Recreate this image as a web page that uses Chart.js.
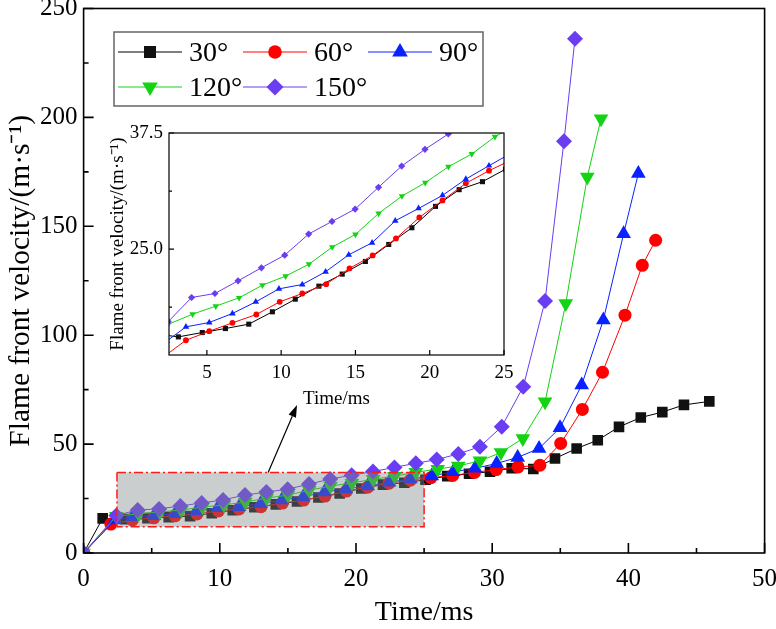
<!DOCTYPE html>
<html><head><meta charset="utf-8">
<script src="https://cdn.jsdelivr.net/npm/chart.js@4/dist/chart.umd.min.js"></script>
<style>
html,body{margin:0;padding:0;background:#fff;}
#wrap{position:relative;width:776px;height:629px;overflow:hidden;}
#main{position:absolute;left:0;top:0;}
#inset{position:absolute;left:100px;top:120px;}
</style></head>
<body><div id="wrap"><canvas id="main" width="776" height="629"></canvas><canvas id="inset" width="420" height="300"></canvas></div>
<script>
// ---- data (time in ms, flame front velocity in m/s) ----
const t30  = [0, 1.4, 3.08, 4.69, 6.25, 7.82, 9.41, 10.95, 12.54, 14.11, 15.67, 17.24, 18.8, 20.39, 21.98, 23.55, 25.1, 26.7, 28.3, 29.84, 31.43, 33.02, 34.61, 36.2, 37.75, 39.31, 40.91, 42.49, 44.08, 45.94];
const v30  = [0, 15.9, 15.55, 16.02, 16.45, 16.92, 18.25, 19.61, 21.01, 22.31, 23.67, 25.5, 27.3, 29.6, 31.4, 32.26, 33.6, 35.3, 36.4, 37.3, 38.9, 38.6, 43.4, 48.0, 51.8, 57.9, 62.2, 64.7, 68.0, 69.6];
const t60  = [0, 2.0, 3.59, 5.16, 6.72, 8.33, 9.9, 11.42, 13.03, 14.6, 16.16, 17.73, 19.3, 20.86, 22.43, 23.99, 25.5, 27.1, 28.7, 30.3, 31.9, 33.5, 35.03, 36.62, 38.1, 39.75, 41.02, 42.0];
const v60  = [0, 13.3, 15.19, 16.16, 17.06, 17.96, 19.32, 20.22, 21.23, 22.92, 24.32, 26.15, 28.41, 30.24, 32.08, 33.44, 34.6, 35.6, 37.0, 38.3, 39.5, 40.3, 50.3, 65.9, 83.0, 109.2, 132.1, 143.6];
const t90  = [0, 2.3, 3.59, 5.16, 6.72, 8.29, 9.85, 11.42, 12.99, 14.55, 16.12, 17.68, 19.25, 20.86, 22.43, 23.99, 25.56, 27.14, 28.74, 30.33, 31.87, 33.44, 34.98, 36.57, 38.16, 39.65, 40.73];
const v90  = [0, 15.1, 16.63, 17.1, 18.07, 19.32, 20.72, 21.19, 22.56, 24.39, 25.68, 28.05, 29.38, 30.78, 32.54, 33.98, 35.4, 37.3, 38.9, 41.1, 43.9, 48.0, 57.5, 77.1, 107.0, 146.6, 174.2];
const t120 = [0, 2.4, 4.04, 5.6, 7.17, 8.74, 10.3, 11.87, 13.44, 15.0, 16.56, 18.13, 19.7, 21.26, 22.83, 24.39, 26.0, 27.51, 29.1, 30.64, 32.25, 33.88, 35.4, 36.98, 37.99];
const v120 = [0, 16.9, 18.0, 18.86, 19.76, 21.12, 22.09, 23.38, 25.22, 26.58, 28.84, 30.71, 32.15, 33.87, 35.24, 37.1, 38.5, 40.0, 42.3, 46.1, 52.6, 69.4, 114.5, 172.6, 199.4];
const t150 = [0, 2.4, 3.97, 5.54, 7.1, 8.67, 10.24, 11.85, 13.42, 14.98, 16.55, 18.11, 19.68, 21.25, 22.82, 24.39, 25.93, 27.51, 29.1, 30.7, 32.28, 33.88, 35.27, 36.08];
const v150 = [0, 17.2, 19.79, 20.22, 21.59, 22.99, 24.35, 26.62, 27.98, 29.31, 31.65, 33.94, 35.74, 37.39, 39.3, 41.2, 42.9, 45.5, 48.8, 58.0, 76.3, 115.7, 189.1, 236.1];
const labels = ['30°', '60°', '90°', '120°', '150°'];

// tick values
const xMajorMain = [0, 10, 20, 30, 40, 50];
const xMinorMain = [5, 15, 25, 35, 45];
const yMajorMain = [0, 50, 100, 150, 200, 250];
const yMinorMain = [25, 75, 125, 175, 225];
const xMajorInset = [5, 10, 15, 20, 25];
const yMajorInset = [25.0, 37.5];
const yMinorInset = [18.75, 31.25];
const zoomBox = [2.45, 25, 12, 37];        // x0, x1, y0, y1 of the shaded region
const arrowPts = [13.55, 37, 15.67, 67.9]; // from (x,y) to (x,y)

// ---- styles ----
const FONT = "'Liberation Serif','Times New Roman',serif";
const styles = [
  {color:'#000000', fill:'#111111', shape:'rect',     rot:0,   r:7.5, ri:3.6, rl:8.5},
  {color:'#ff0000', fill:'#ff0000', shape:'circle',   rot:0,   r:6.5, ri:2.9, rl:6.8},
  {color:'#0a22ff', fill:'#0a22ff', shape:'triangle', rot:0,   r:8.5, ri:3.8, rl:9},
  {color:'#14d214', fill:'#14d214', shape:'triangle', rot:180, r:8.5, ri:3.8, rl:9},
  {color:'#6a3cf2', fill:'#6a3cf2', shape:'rectRot',  rot:0,   r:8,   ri:3.6, rl:8.5}
];
const seriesT = [t30, t60, t90, t120, t150];
const seriesV = [v30, v60, v90, v120, v150];

function pts(t, v){ return t.map((x,i)=>({x:x, y:v[i]})); }
function makeDatasets(inset){
  return seriesT.map((t,i)=>{
    const s = styles[i];
    return {
      label: labels[i], data: pts(t, seriesV[i]),
      borderColor: s.color, backgroundColor: s.fill,
      pointBackgroundColor: s.fill, pointBorderColor: s.fill, pointBorderWidth: 0,
      pointStyle: s.shape, pointRotation: s.rot, pointRadius: inset ? s.ri : s.r,
      pointHoverRadius: inset ? s.ri : s.r,
      borderWidth: 1, tension: 0, fill: false, order: 4 - i
    };
  });
}

function axesPlugin(o){
  return {
    id: 'axesBox',
    afterDraw(chart){
      const {ctx, chartArea:a, scales:{x, y}} = chart;
      ctx.save();
      ctx.strokeStyle = '#000'; ctx.lineWidth = o.lw;
      ctx.strokeRect(a.left, a.top, a.right - a.left, a.bottom - a.top);
      ctx.beginPath();
      o.xMaj.forEach(v=>{ const p = x.getPixelForValue(v); ctx.moveTo(p, a.bottom); ctx.lineTo(p, a.bottom - o.maj); });
      o.xMin.forEach(v=>{ const p = x.getPixelForValue(v); ctx.moveTo(p, a.bottom); ctx.lineTo(p, a.bottom - o.min); });
      o.yMaj.forEach(v=>{ const p = y.getPixelForValue(v); ctx.moveTo(a.left, p); ctx.lineTo(a.left + o.maj, p); });
      o.yMin.forEach(v=>{ const p = y.getPixelForValue(v); ctx.moveTo(a.left, p); ctx.lineTo(a.left + o.min, p); });
      ctx.stroke();
      ctx.restore();
    }
  };
}

const boxPlugin = {
  id: 'zoomBox',
  afterDatasetsDraw(chart){
    const {ctx, scales:{x, y}} = chart;
    const x0 = x.getPixelForValue(zoomBox[0]), x1 = x.getPixelForValue(zoomBox[1]);
    const y0 = y.getPixelForValue(zoomBox[3]), y1 = y.getPixelForValue(zoomBox[2]);
    ctx.save();
    ctx.fillStyle = 'rgba(124,134,134,0.404)';
    ctx.fillRect(x0, y0, x1 - x0, y1 - y0);
    ctx.strokeStyle = '#ff1a1a'; ctx.lineWidth = 1.5;
    ctx.setLineDash([9, 3, 2, 3]);
    ctx.strokeRect(x0, y0, x1 - x0, y1 - y0);
    ctx.setLineDash([]);
    // arrow
    const ax = x.getPixelForValue(arrowPts[0]), ay = y.getPixelForValue(arrowPts[1]);
    const bx = x.getPixelForValue(arrowPts[2]), by = y.getPixelForValue(arrowPts[3]);
    const ang = Math.atan2(by - ay, bx - ax);
    const L = 12, W = 4;
    const hx = bx - L*Math.cos(ang), hy = by - L*Math.sin(ang);
    ctx.strokeStyle = '#000'; ctx.fillStyle = '#000'; ctx.lineWidth = 1.2;
    ctx.beginPath(); ctx.moveTo(ax, ay); ctx.lineTo(hx, hy); ctx.stroke();
    ctx.beginPath();
    ctx.moveTo(bx, by);
    ctx.lineTo(hx + W*Math.sin(ang), hy - W*Math.cos(ang));
    ctx.lineTo(hx - W*Math.sin(ang), hy + W*Math.cos(ang));
    ctx.closePath(); ctx.fill();
    ctx.restore();
  }
};

const legendPlugin = {
  id: 'customLegend',
  afterDraw(chart){
    const ctx = chart.ctx;
    ctx.save();
    ctx.strokeStyle = '#666'; ctx.lineWidth = 1.5;
    ctx.strokeRect(114, 32, 369, 74);
    const slots = [
      {lx:118, mx:150, tx:189, y:52}, {lx:243, mx:275, tx:314, y:52}, {lx:368, mx:400, tx:439, y:52},
      {lx:118, mx:150, tx:189, y:87}, {lx:243, mx:275, tx:314, y:87}
    ];
    ctx.font = '28px ' + FONT; ctx.textBaseline = 'middle'; ctx.textAlign = 'left';
    slots.forEach((p, i)=>{
      const s = styles[i];
      ctx.strokeStyle = s.color; ctx.lineWidth = 1;
      ctx.beginPath(); ctx.moveTo(p.lx, p.y); ctx.lineTo(p.lx + 64, p.y); ctx.stroke();
      ctx.fillStyle = s.fill;
      Chart.helpers.drawPoint(ctx, {pointStyle: s.shape, rotation: s.rot, radius: s.rl, borderWidth: 0}, p.mx, p.y);
      ctx.fillStyle = '#000';
      ctx.fillText(labels[i], p.tx, p.y + 2);
    });
    ctx.restore();
  }
};

Chart.defaults.font.family = FONT;
Chart.defaults.color = '#000';

new Chart(document.getElementById('main'), {
  type: 'line',
  data: { datasets: makeDatasets(false) },
  options: {
    responsive: false, animation: false, devicePixelRatio: 1,
    layout: { padding: { top: 8, right: 11.4, bottom: 0, left: 0 } },
    plugins: { legend: { display: false }, tooltip: { enabled: false } },
    scales: {
      x: {
        type: 'linear', min: 0, max: 50,
        grid: { display: false, drawTicks: false }, border: { display: false },
        ticks: { stepSize: 10, padding: 11, font: { size: 25 }, color: '#000' },
        title: { display: true, text: 'Time/ms', font: { size: 28 }, color: '#000', padding: { top: 0, bottom: 0 } },
        afterFit(s){ s.height = 76; s.paddingLeft = 0; s.paddingRight = 0; }
      },
      y: {
        type: 'linear', min: 0, max: 250,
        grid: { display: false, drawTicks: false }, border: { display: false },
        ticks: { stepSize: 50, padding: 6, font: { size: 25 }, color: '#000' },
        title: { display: true, text: 'Flame front velocity/(m·s⁻¹)', font: { size: 29.5 }, color: '#000', padding: { top: 4, bottom: 0 } },
        afterFit(s){ s.width = 83.6; s.paddingTop = 0; s.paddingBottom = 0; }
      }
    }
  },
  plugins: [boxPlugin, axesPlugin({lw:1.6, maj:10, min:5, xMaj:xMajorMain, xMin:xMinorMain, yMaj:yMajorMain, yMin:yMinorMain}), legendPlugin]
});

new Chart(document.getElementById('inset'), {
  type: 'line',
  data: { datasets: makeDatasets(true) },
  options: {
    responsive: false, animation: false, devicePixelRatio: 1,
    layout: { padding: { top: 13, right: 16, bottom: 0, left: 0 } },
    plugins: { legend: { display: false }, tooltip: { enabled: false } },
    scales: {
      x: {
        type: 'linear', min: 2.45, max: 25,
        grid: { display: false, drawTicks: false }, border: { display: false },
        ticks: { padding: 7, font: { size: 19 }, color: '#000' },
        afterBuildTicks(s){ s.ticks = xMajorInset.map(v=>({value:v})); },
        title: { display: true, text: 'Time/ms', font: { size: 19 }, color: '#000', padding: { top: 0, bottom: 10 } },
        afterFit(s){ s.height = 65; s.paddingLeft = 0; s.paddingRight = 0; }
      },
      y: {
        type: 'linear', min: 13.6, max: 37.5,
        grid: { display: false, drawTicks: false }, border: { display: false },
        ticks: { padding: 6, font: { size: 19 }, color: '#000', callback: v => v.toFixed(1) },
        afterBuildTicks(s){ s.ticks = yMajorInset.map(v=>({value:v})); },
        title: { display: true, text: 'Flame front velocity/(m·s⁻¹)', font: { size: 19 }, color: '#000', padding: { top: 7, bottom: 0 } },
        afterFit(s){ s.width = 69; s.paddingTop = 0; s.paddingBottom = 0; }
      }
    }
  },
  plugins: [axesPlugin({lw:1.2, maj:5, min:3, xMaj:xMajorInset, xMin:[], yMaj:yMajorInset, yMin:yMinorInset})]
});
</script>
</body></html>
